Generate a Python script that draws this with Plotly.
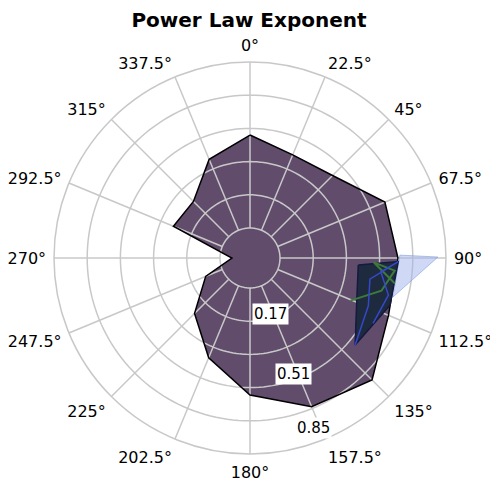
import math
import plotly.graph_objects as go

# ---------------- data ----------------
angles = [0, 22.5, 45, 67.5, 90, 112.5, 135, 157.5, 180, 202.5, 225, 247.5, 270, 292.5, 315, 337.5]
exponent = [0.476, 0.418, 0.444, 0.594, 0.604, 0.614, 0.730, 0.671, 0.548, 0.399, 0.248, 0.092, -0.061, 0.271, 0.256, 0.393]

# small overlapping series near 90-130 degrees
dark_theta = [93.7, 91.4, 108.6, 129.6, 111.5]
dark_r = [0.402, 0.606, 0.603, 0.545, 0.434]
spike_theta = [88.9, 89.7, 105.3]
spike_r = [0.614, 0.809, 0.605]
blue_theta = [129.6, 112.0, 100.0, 91.4, 96.0, 105.0, 118.0]
blue_r = [0.545, 0.500, 0.470, 0.606, 0.520, 0.580, 0.560]
green_theta = [113.0, 104.0, 95.0, 92.0, 100.0]
green_r = [0.405, 0.540, 0.590, 0.480, 0.600]

tick_angles = [i * 22.5 for i in range(16)]
tick_text = [("%g" % a) + "°" for a in tick_angles]
r_grid = [0.0, 0.17, 0.34, 0.51, 0.68]
r_labels = ["0.17", "0.51", "0.85"]
r_min, r_max = -0.1536, 0.85

# ---------------- layout geometry (page body has an 8px margin) ----------------
W, H = 490, 474
cx, cy, R = 242, 250, 196
FILL = "#614c6c"
GRID = "#c8c8c8"
FONT = "DejaVu Sans, Verdana, sans-serif"

fig = go.Figure()
# polygon fill
fig.add_trace(go.Scatterpolar(
    r=exponent + exponent[:1], theta=angles + angles[:1], mode="none",
    fill="toself", fillcolor=FILL, hoverinfo="skip", showlegend=False))

# grid drawn above the fill
circle_theta = [k * 2 for k in range(181)]
for rv in r_grid:
    fig.add_trace(go.Scatterpolar(
        r=[rv] * len(circle_theta), theta=circle_theta, mode="lines",
        line=dict(color=GRID, width=1.5), hoverinfo="skip", showlegend=False))
for a in tick_angles:
    fig.add_trace(go.Scatterpolar(
        r=[0.0, r_max], theta=[a, a], mode="lines",
        line=dict(color=GRID, width=1.5), hoverinfo="skip", showlegend=False))

# polygon outline
fig.add_trace(go.Scatterpolar(
    r=exponent + exponent[:1], theta=angles + angles[:1], mode="lines",
    line=dict(color="black", width=1.5), hoverinfo="skip", showlegend=False))

fig.add_trace(go.Scatterpolar(
    r=spike_r + spike_r[:1], theta=spike_theta + spike_theta[:1], mode="lines",
    fill="toself", fillcolor="rgba(160,180,235,0.5)",
    line=dict(color="rgba(130,160,225,0.6)", width=1), showlegend=False))
fig.add_trace(go.Scatterpolar(
    r=dark_r + dark_r[:1], theta=dark_theta + dark_theta[:1], mode="lines",
    fill="toself", fillcolor="#1e2a3e", line=dict(color="#141a40", width=1.5),
    showlegend=False))
fig.add_trace(go.Scatterpolar(
    r=green_r, theta=green_theta, mode="lines",
    line=dict(color="#3c7a3c", width=2), showlegend=False))
fig.add_trace(go.Scatterpolar(
    r=blue_r, theta=blue_theta, mode="lines",
    line=dict(color="#3448c8", width=1.5), showlegend=False))

# radial labels with white boxes
lab_ang = 159.6
lab_px = [59.3, 123.5, 181.0]
for txt, rp in zip(r_labels, lab_px):
    x = (cx + rp * math.sin(math.radians(lab_ang))) / W
    y = 1 - (cy - rp * math.cos(math.radians(lab_ang))) / H
    fig.add_annotation(x=x, y=y, xref="paper", yref="paper", text=txt, showarrow=False,
                       bgcolor="white", borderpad=1, font=dict(size=15, color="black", family=FONT),
                       xanchor="center", yanchor="middle")

fig.update_layout(
    width=W, height=H, margin=dict(l=0, r=0, t=0, b=0),
    paper_bgcolor="white", plot_bgcolor="white",
    font=dict(family=FONT, size=16, color="black"),
    title=dict(text="<b>Power Law Exponent</b>", x=241 / W, xanchor="center",
               y=1 - 12 / H, yanchor="middle", font=dict(size=20, color="black", family=FONT)),
    polar=dict(
        domain=dict(x=[(cx - R) / W, (cx + R) / W], y=[1 - (cy + R) / H, 1 - (cy - R) / H]),
        bgcolor="white",
        angularaxis=dict(rotation=90, direction="clockwise", tickmode="array",
                         tickvals=tick_angles, ticktext=tick_text,
                         ticks="outside", ticklen=4, tickcolor="rgba(0,0,0,0)",
                         showline=True, linecolor=GRID, linewidth=1.5,
                         showgrid=False,
                         tickfont=dict(size=16, color="black")),
        radialaxis=dict(range=[r_min, r_max], showgrid=False,
                        showticklabels=False, ticks="", showline=False),
    ),
)
fig.write_html("out.html")
